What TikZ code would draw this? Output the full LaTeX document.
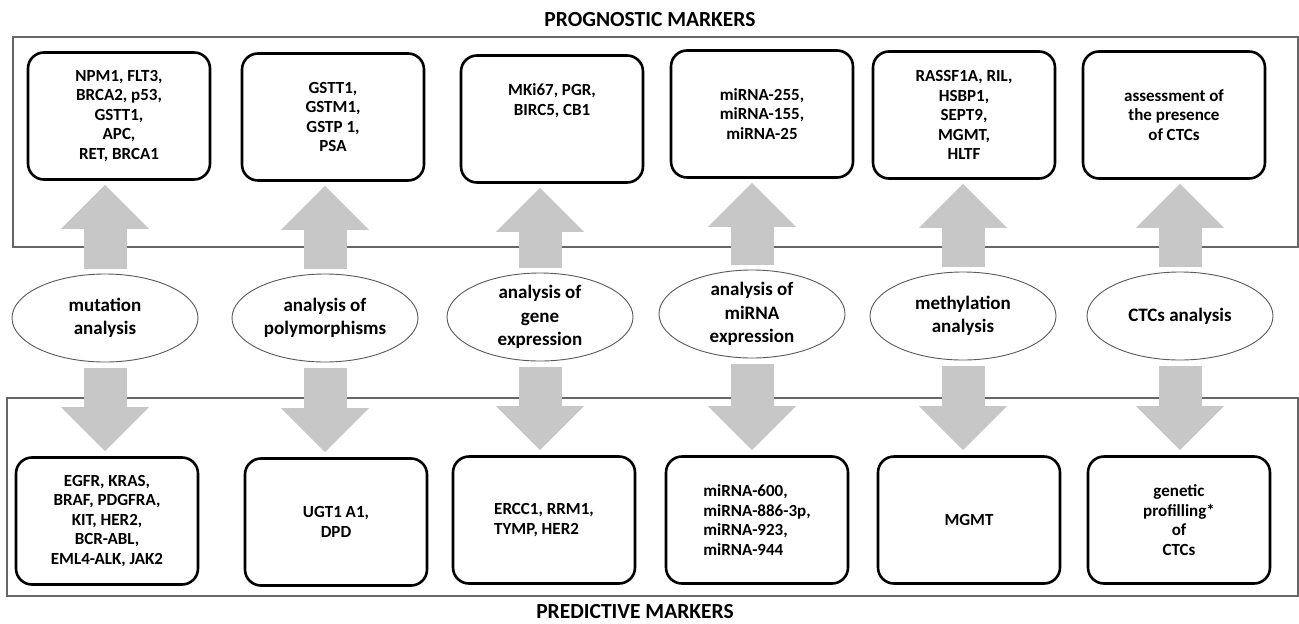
\documentclass[tikz,border=0pt]{standalone}
\usepackage{fontspec}
\setmainfont{Carlito}
\usetikzlibrary{arrows.meta,shapes.geometric}
\definecolor{arrowgray}{RGB}{199,199,199}

\begin{document}
\begin{tikzpicture}[x=1pt,y=-1pt]
	\tikzstyle{marker_box} = [draw=black, line width=2.6pt, rounded corners=16pt, fill=white, minimum width=182pt, minimum height=127pt, align=center, font=\fontsize{17}{19.5}\selectfont\bfseries]
	\tikzstyle{analysis} = [ellipse, draw=black!65, line width=0.9pt, fill=white, minimum width=186pt, minimum height=88pt, inner sep=-3pt, align=center, font=\fontsize{19}{23.5}\selectfont\bfseries]
	\tikzstyle{block_up} = [draw=arrowgray, line width=43pt, -{Triangle[width=85pt,length=44pt]}, shorten <=5pt, shorten >=4pt]
	\tikzstyle{block_down} = [draw=arrowgray, line width=43pt, -{Triangle[width=85pt,length=44pt]}, shorten <=6pt, shorten >=5pt]
	\tikzstyle{frame} = [draw=black!60, line width=1.4pt]
	\tikzstyle{heading} = [font=\fontsize{21.5}{24}\selectfont\bfseries]

	\useasboundingbox (0,0) rectangle (1299,624);

%------------------------------------------------------------
	\draw[frame] (13,37) rectangle (1298,247);
	\draw[frame] (7,398) rectangle (1298,596);

	\node[heading] (prog_title) at (650,20) {PROGNOSTIC MARKERS};
	\node[heading] (pred_title) at (635,612) {PREDICTIVE MARKERS};

%------------------------------------------------------------
	\node[marker_box] (prog1) at (119,116) {NPM1, FLT3,\\BRCA2, p53,\\GSTT1,\\APC,\\RET, BRCA1};
	\node[marker_box] (prog2) at (333,117) {GSTT1,\\GSTM1,\\GSTP 1,\\PSA};
	\node[marker_box] (prog3) at (552,119) {MKi67, PGR,\\BIRC5, CB1\\[19.5pt]};
	\node[marker_box] (prog4) at (762,114) {miRNA-255,\\miRNA-155,\\miRNA-25};
	\node[marker_box] (prog5) at (964,115) {RASSF1A, RIL,\\HSBP1,\\SEPT9,\\MGMT,\\HLTF};
	\node[marker_box] (prog6) at (1174,115) {assessment of\\the presence\\of CTCs};

%------------------------------------------------------------
	\node[analysis] (ana1) at (105,318) {mutation\\analysis};
	\node[analysis] (ana2) at (325,318) {analysis of\\polymorphisms};
	\node[analysis] (ana3) at (540,317) {analysis of\\gene\\expression};
	\node[analysis] (ana4) at (752,314) {analysis of\\miRNA\\expression};
	\node[analysis] (ana5) at (963,316) {methylation\\analysis};
	\node[analysis] (ana6) at (1180,316) {CTCs analysis};

%------------------------------------------------------------
	\node[marker_box] (pred1) at (107,521) {EGFR, KRAS,\\BRAF, PDGFRA,\\KIT, HER2,\\BCR-ABL,\\EML4-ALK, JAK2};
	\node[marker_box] (pred2) at (336,522) {UGT1 A1,\\DPD};
	\node[marker_box, align=left] (pred3) at (544,520) {ERCC1, RRM1,\\TYMP, HER2};
	\node[marker_box, align=left] (pred4) at (757,520) {miRNA-600,\\miRNA-886-3p,\\miRNA-923,\\miRNA-944};
	\node[marker_box] (pred5) at (969,520) {MGMT};
	\node[marker_box] (pred6) at (1179,520) {genetic\\profilling*\\of\\CTCs};

%------------------------------------------------------------
	\foreach \i in {1,...,6}{
		\draw[block_up] (ana\i.north) -- (ana\i.north |- prog\i.south);
		\draw[block_down] (ana\i.south) -- (ana\i.south |- pred\i.north);
	}

\end{tikzpicture}
\end{document}
